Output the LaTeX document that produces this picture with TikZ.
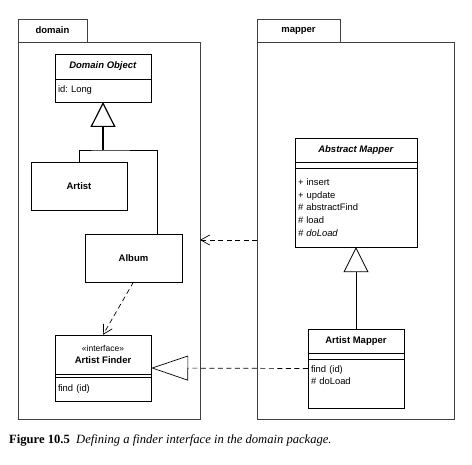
\documentclass[tikz,border=0pt]{standalone}
\usepackage{fontspec}
\setmainfont{Liberation Sans}
\newfontfamily\capfont{Liberation Serif}
\frenchspacing
\usetikzlibrary{positioning,fit,arrows.meta}
\tikzstyle{pkgtab} = [rectangle, draw=black!75, line width=0.8pt, minimum height=23pt, inner sep=0pt, outer sep=0pt, font=\fontsize{9.5}{11}\selectfont\bfseries]
\tikzstyle{pkgbody} = [rectangle, draw=black!75, line width=0.8pt, minimum height=377pt, inner sep=0pt, outer sep=0pt]
\tikzstyle{classtitle} = [rectangle, draw, line width=0.9pt, minimum height=24pt, inner sep=2pt, outer sep=0pt, align=center, fill=white, font=\fontsize{9.5}{11.5}\selectfont\bfseries]
\tikzstyle{compartment} = [rectangle, draw, line width=0.9pt, inner sep=3pt, outer sep=0pt, align=left, font=\fontsize{9.4}{12.7}\selectfont]
\tikzstyle{emptypart} = [rectangle, draw, line width=0.9pt, inner sep=0pt, outer sep=0pt]
\tikzstyle{dep} = [line width=0.7pt, dash pattern=on 5pt off 3.5pt, -{Straight Barb[length=9pt,width=10pt]}]
\tikzstyle{gen} = [line width=0.8pt, -{Triangle[open,length=25pt,width=25pt]}]
\tikzstyle{realize} = [line width=0.7pt, dash pattern=on 5pt off 3.5pt, -{Triangle[open,length=37pt,width=25pt]}]
\begin{document}
\begin{tikzpicture}[x=1pt, y=-1pt]
        \useasboundingbox (0,0) rectangle (472,465);
        % Packages ---------------------------------------------------------------------------------
        \node[pkgtab, minimum width=69pt, anchor=north west] (domain_tab) at (18,19) {domain};
        \node[pkgbody, minimum width=182pt, anchor=north west] (domain_pkg) at (18,42) {};
        \node[pkgtab, minimum width=83pt, anchor=north west] (mapper_tab) at (257,19) {mapper};
        \node[pkgbody, minimum width=197pt, anchor=north west] (mapper_pkg) at (257,42) {};
        % Domain -----------------------------------------------------------------------------------
        \node[classtitle, minimum width=96pt, minimum height=25pt, anchor=north west] (dobj_title) at (55,54) {\textit{Domain Object}};
        \node[compartment, text width=90pt, minimum height=23pt, below=0pt of dobj_title] (dobj_attr) {id: Long};
        \node[classtitle, minimum width=96pt, minimum height=48pt] (artist) at (79,186) {Artist};
        \node[classtitle, minimum width=97pt, minimum height=48pt] (album) at (133.5,258) {Album};
        % Finder
        \node[classtitle, minimum width=96pt, minimum height=39pt, anchor=north west] (af_title) at (55,335) {{\mdseries\fontsize{8.5}{10}\selectfont «interface»}\\Artist Finder};
        \node[emptypart, minimum width=96pt, minimum height=3pt, below=0pt of af_title] (af_attr) {};
        \node[compartment, text width=90pt, minimum height=24pt, below=0pt of af_attr] (af_ops) {find (id)};
        \node[fit={(af_title) (af_ops)}, inner sep=0pt] (finder) {};
        % Mapper -----------------------------------------------------------------------------------
        \node[classtitle, minimum width=122pt, anchor=north west] (am_title) at (295,138) {\textit{Abstract Mapper}};
        \node[emptypart, minimum width=122pt, minimum height=6pt, below=0pt of am_title] (am_attr) {};
        \node[compartment, text width=116pt, minimum height=79pt, below=0pt of am_attr] (am_ops) {+ insert\\+ update\\\# abstractFind\\\# load\\\textit{\# doLoad}};
        \node[fit={(am_title) (am_ops)}, inner sep=0pt] (abstract_mapper) {};
        \node[classtitle, minimum width=96pt, anchor=north west] (arm_title) at (308,329) {Artist Mapper};
        \node[emptypart, minimum width=96pt, minimum height=6pt, below=0pt of arm_title] (arm_attr) {};
        \node[compartment, text width=90pt, minimum height=49pt, below=0pt of arm_attr] (arm_ops) {find (id)\\\# doLoad\\\strut};
        \node[fit={(arm_title) (arm_ops)}, inner sep=0pt] (artist_mapper) {};
        % Caption ----------------------------------------------------------------------------------
        \node[anchor=west, inner sep=0pt, font=\capfont\fontsize{12.6}{15}\selectfont] (caption) at (9,440) {\textbf{Figure 10.5}\enspace\textit{Defining a finder interface in the domain package.}};
        % Arrows -----------------------------------------------------------------------------------
        \coordinate (gen_join) at (103,150);
        \draw[gen, line width=1.2pt] (gen_join) -- (dobj_attr.south);
        \draw[line width=0.8pt] (artist.north) |- (gen_join) -| ([xshift=24pt]album.north);
        \draw[dep] (album.south) -- (finder.north);
        \draw[dep] ([yshift=-9.5pt]mapper_pkg.west) -- ([yshift=-9.5pt]domain_pkg.east);
        \draw[gen] (artist_mapper.north) -- (abstract_mapper.south);
        \draw[realize] (artist_mapper.west) -- (finder.east);
    \end{tikzpicture}
\end{document}
